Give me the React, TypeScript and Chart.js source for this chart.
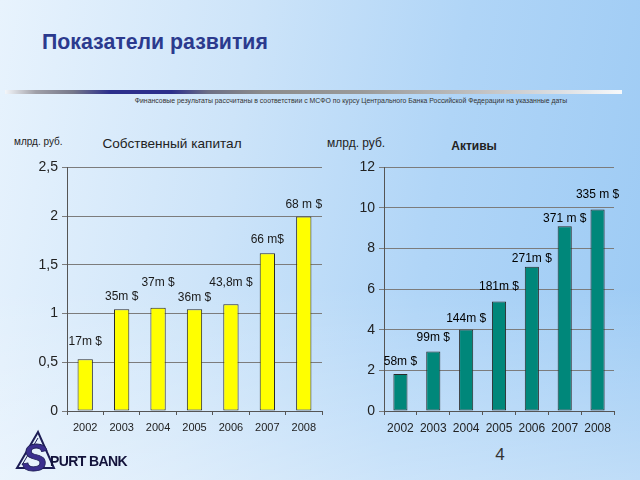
import React, { useEffect, useRef } from "react";
import { Chart, registerables } from "chart.js";

Chart.register(...registerables);

const years = ["2002", "2003", "2004", "2005", "2006", "2007", "2008"];
const equityValues = [0.53, 1.045, 1.06, 1.045, 1.095, 1.62, 1.995];
const equityLabels = ["17m $", "35m $", "37m $", "36m $", "43,8m $", "66 m$", "68 m $"];
const assetValues = [1.82, 2.93, 4.01, 5.4, 7.11, 9.1, 9.93];
const assetLabels = ["58m $", "99m $", "144m $", "181m $", "271m $", "371 m $", "335 m $"];

const FONT = "'Liberation Sans', Arial, sans-serif";

const labelPlugin = {
  id: "barLabels",
  afterDatasetsDraw(chart: any, _args: any, opts: any) {
    const { ctx } = chart;
    const meta = chart.getDatasetMeta(0);
    ctx.save();
    ctx.font = opts.font;
    ctx.fillStyle = opts.color;
    ctx.textAlign = "center";
    ctx.textBaseline = "middle";
    meta.data.forEach((el: any, i: number) => {
      const off = (opts.offsets && opts.offsets[i]) || 12;
      ctx.fillText(opts.labels[i], el.x, el.y - off);
    });
    ctx.restore();
  },
};

function makeChart(
  canvas: HTMLCanvasElement,
  values: number[],
  labels: string[],
  cfg: {
    color: string;
    max: number;
    step: number;
    yWidth: number;
    padTop: number;
    padRight: number;
    barPct: number;
    xFont: number;
    labelFont: string;
    labelColor: string;
    offsets: number[];
  }
) {
  return new Chart(canvas, {
    type: "bar",
    data: {
      labels: years,
      datasets: [
        {
          data: values,
          backgroundColor: cfg.color,
          borderColor: "#2b2b2b",
          borderWidth: 1,
          borderSkipped: false,
          categoryPercentage: 1,
          barPercentage: cfg.barPct,
        },
      ],
    },
    options: {
      responsive: false,
      animation: false,
      devicePixelRatio: 1,
      layout: { padding: { top: cfg.padTop, right: cfg.padRight, left: 0, bottom: 0 } },
      plugins: {
        legend: { display: false },
        tooltip: { enabled: false },
        title: { display: false },
        barLabels: { labels, font: cfg.labelFont, color: cfg.labelColor, offsets: cfg.offsets },
      } as any,
      scales: {
        x: {
          grid: {
            drawOnChartArea: false,
            drawTicks: true,
            tickLength: 4,
            color: "#555",
            offset: true,
          },
          border: { color: "#555", width: 1 },
          ticks: {
            color: "#222",
            font: { family: FONT, size: cfg.xFont },
            padding: 6,
            maxRotation: 0,
          },
          afterFit(scale: any) {
            scale.height = 34;
          },
        },
        y: {
          min: 0,
          max: cfg.max,
          ticks: {
            stepSize: cfg.step,
            color: "#222",
            font: { family: FONT, size: 14 },
            padding: 4,
            callback: (v: any) => String(v).replace(".", ","),
          },
          grid: { color: "#7c7c7c", tickLength: 5 },
          border: { color: "#555", width: 1 },
          afterFit(scale: any) {
            scale.width = cfg.yWidth;
          },
        },
      },
    },
    plugins: [labelPlugin],
  } as any);
}

export default function App() {
  const leftRef = useRef<HTMLCanvasElement>(null);
  const rightRef = useRef<HTMLCanvasElement>(null);

  useEffect(() => {
    const c1 = makeChart(leftRef.current!, equityValues, equityLabels, {
      color: "#ffff00",
      max: 2.5,
      step: 0.5,
      yWidth: 67,
      padTop: 9,
      padRight: 8,
      barPct: 0.42,
      xFont: 11,
      labelFont: `12px ${FONT}`,
      labelColor: "#1a1a1a",
      offsets: [18, 12, 25, 11, 22, 13, 12],
    });
    const c2 = makeChart(rightRef.current!, assetValues, assetLabels, {
      color: "#00877a",
      max: 12,
      step: 2,
      yWidth: 54,
      padTop: 11,
      padRight: 26,
      barPct: 0.43,
      xFont: 12,
      labelFont: `12px ${FONT}`,
      labelColor: "#000",
      offsets: [12, 14, 11, 15, 8, 8, 15],
    });
    return () => {
      c1.destroy();
      c2.destroy();
    };
  }, []);

  const abs = (s: React.CSSProperties): React.CSSProperties => ({ position: "absolute", ...s });

  return (
    <div
      style={{
        position: "fixed",
        left: 0,
        top: 0,
        width: 640,
        height: 480,
        overflow: "hidden",
        fontFamily: FONT,
        background:
          "linear-gradient(180deg, rgba(255,255,255,0) 0%, rgba(255,255,255,0) 60%, rgba(255,255,255,0.35) 100%), linear-gradient(100deg, #e8f3fd 0%, #cde4f9 35%, #b0d5f7 65%, #9ccaf4 100%)",
      }}
    >
      <div
        style={abs({
          left: 42,
          top: 29,
          fontSize: 21.3,
          fontWeight: "bold",
          color: "#2b3a8e",
          whiteSpace: "nowrap",
          lineHeight: "26px",
        })}
      >
        Показатели развития
      </div>
      <div
        style={abs({
          left: 5,
          top: 90,
          width: 617,
          height: 4,
          background:
            "linear-gradient(to right, #f3f6fa 0%, #a0a0a8 5%, #76788a 11%, #2c2f8c 17%, #2c2f8c 27%, #6e7086 33%, #8c8c8c 42%, #9a9a9a 58%, #bdbdbd 75%, #dcdfe3 90%, #f7f9fb 100%)",
        })}
      />
      <div
        style={abs({
          left: 128,
          top: 96,
          width: 446,
          fontSize: 6.9,
          color: "#333",
          whiteSpace: "nowrap",
          lineHeight: "9px",
          textAlign: "center",
        })}
      >
        Финансовые результаты рассчитаны в соответствии с МСФО по курсу Центрального Банка Российской Федерации на указанные даты
      </div>

      <div style={abs({ left: 14, top: 136, fontSize: 10, color: "#222", whiteSpace: "nowrap", lineHeight: "12px" })}>
        млрд. руб.
      </div>
      <div
        style={abs({
          left: 72,
          top: 136,
          width: 200,
          textAlign: "center",
          fontSize: 13.6,
          color: "#222",
          whiteSpace: "nowrap",
          lineHeight: "16px",
        })}
      >
        Собственный капитал
      </div>
      <div style={abs({ left: 327, top: 136, fontSize: 12, color: "#222", whiteSpace: "nowrap", lineHeight: "14px" })}>
        млрд. руб.
      </div>
      <div
        style={abs({
          left: 424,
          top: 139,
          width: 100,
          textAlign: "center",
          fontSize: 12,
          fontWeight: "bold",
          color: "#222",
          whiteSpace: "nowrap",
          lineHeight: "14px",
        })}
      >
        Активы
      </div>

      <canvas ref={leftRef} width={330} height={290} style={abs({ left: 0, top: 155, width: 330, height: 290 })} />
      <canvas ref={rightRef} width={310} height={290} style={abs({ left: 330, top: 155, width: 310, height: 290 })} />

      <div style={abs({ left: 490, top: 445, width: 20, textAlign: "center", fontSize: 17, color: "#333", lineHeight: "20px" })}>
        4
      </div>

      <svg width={130} height={50} style={abs({ left: 12, top: 428 })}>
        <polygon points="26,4 5,40 42,40" fill="none" stroke="#1d1d55" strokeWidth={2} />
        <polyline points="26,10 10,37" fill="none" stroke="#1d1d55" strokeWidth={1} />
        <text
          x={10}
          y={43}
          fontFamily={FONT}
          fontSize={38}
          fontWeight="bold"
          fontStyle="italic"
          fill="#3b2f8e"
          stroke="#1d1d55"
          strokeWidth={0.8}
        >
          S
        </text>
        <text x={38} y={38} fontFamily={FONT} fontSize={14} fontWeight="bold" fill="#12123a" letterSpacing={-0.6}>
          PURT BANK
        </text>
      </svg>
    </div>
  );
}
